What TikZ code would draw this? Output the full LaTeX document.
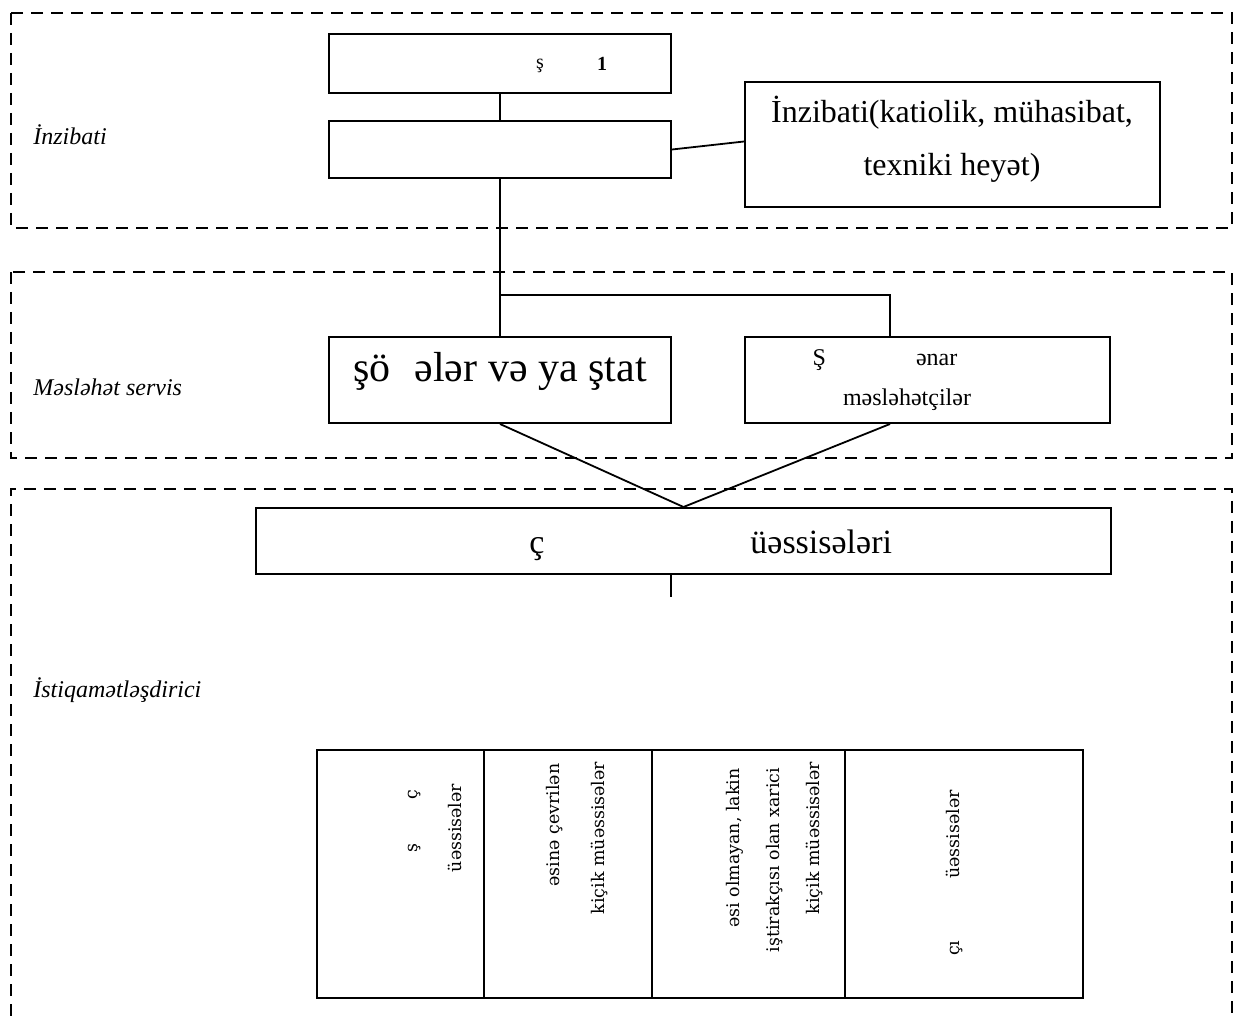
\documentclass[tikz,border=0pt]{standalone}
\usepackage{fontspec}
\setmainfont{Liberation Serif}
\newfontfamily\rotfont{DejaVu Serif}
\usetikzlibrary{calc}
\tikzset{
  box/.style={draw, line width=1pt, inner sep=0pt},
  zone/.style={draw, line width=1.4pt, dash pattern=on 6pt off 4pt},
  conn/.style={draw, line width=0.9pt},
  zlabel/.style={anchor=west, inner sep=0pt, font=\fontsize{12}{14}\selectfont\itshape},
  rtext/.style={rotate=90, inner sep=0pt, font=\rotfont\fontsize{8.7}{10}\selectfont},
}
\begin{document}
\begin{tikzpicture}[x=0.5pt,y=-0.5pt]
\useasboundingbox (0,0) rectangle (1243,1016);
% zones
\draw[zone] (11,13) rectangle (1232,228);
\draw[zone] (11,272) rectangle (1232,458);
\draw[zone] (11,1016) -- (11,489) -- (1232,489) -- (1232,1016);
\node[zlabel] (lz1) at (33,135) {İnzibati};
\node[zlabel] (lz2) at (33,387) {Məsləhət servis};
\node[zlabel] (lz3) at (33,690) {İstiqamətləşdirici};
% boxes
\node[box, minimum width=171pt, minimum height=29.5pt] (A) at (500,63.5) {};
\node[box, minimum width=171pt, minimum height=28.5pt] (B) at (500,149.5) {};
\node[box, minimum width=207.5pt, minimum height=62.5pt] (C) at (952.5,144.5) {};
\node[box, minimum width=171pt, minimum height=43pt] (D) at (500,380) {};
\node[box, minimum width=182.5pt, minimum height=43pt] (E) at (927.5,380) {};
\node[box, minimum width=427.5pt, minimum height=33pt] (F) at (683.5,541) {};
% table
\node[box, minimum width=83.5pt, minimum height=124pt] (T1) at (400.5,874) {};
\node[box, minimum width=84pt, minimum height=124pt] (T2) at (568,874) {};
\node[box, minimum width=96.5pt, minimum height=124pt] (T3) at (748.5,874) {};
\node[box, minimum width=119pt, minimum height=124pt] (T4) at (964,874) {};
% texts
\node[font=\fontsize{10}{12}\selectfont, inner sep=0pt] (ta1) at (540,66) {ş};
\node[font=\fontsize{10}{12}\selectfont\bfseries, inner sep=0pt] (ta2) at (602,64) {1};
\node[font=\fontsize{16}{26.5}\selectfont, align=center, inner sep=0pt] (tc) at (952,139) {İnzibati(katiolik, mühasibat,\\texniki heyət)};
\node[font=\fontsize{21}{25}\selectfont, inner sep=0pt] (td) at (500,371) {şö\hspace{12pt}ələr və ya ştat};
\node[font=\fontsize{12}{14}\selectfont, inner sep=0pt] (te1) at (885,360) {Ş\hspace{45pt}ənar};
\node[font=\fontsize{12}{14}\selectfont, inner sep=0pt] (te2) at (907,400) {məsləhətçilər};
\node[font=\fontsize{17}{20}\selectfont, inner sep=0pt, anchor=base] (tf1) at (537,553) {ç};
\node[font=\fontsize{17}{20}\selectfont, inner sep=0pt, anchor=base west] (tf2) at (750,553) {üəssisələri};
\node[rtext] (r11) at (415,821) {ş\hspace{22pt}ç};
\node[rtext] (r12) at (455,828) {üəssisələr};
\node[rtext] (r21) at (555,825) {əsinə çevrilən};
\node[rtext] (r22) at (600,838) {kiçik müəssisələr};
\node[rtext] (r31) at (735,848) {əsi olmayan, lakin};
\node[rtext] (r32) at (775,860) {iştirakçısı olan xarici};
\node[rtext] (r33) at (815,838) {kiçik müəssisələr};
\node[rtext] (r41) at (955,873) {çı\hspace{31pt}üəssisələr};
% connectors
\coordinate (J) at (500,295);
\coordinate (Fend) at (671,597);
\draw[conn] (A.south) -- (B.north);
\draw[conn] (B.east) -- ([yshift=1.5pt]C.west);
\draw[conn] (B.south) -- (D.north);
\draw[conn] (J) -| ([xshift=-18.75pt]E.north);
\draw[conn] (D.south) -- (F.north);
\draw[conn] ([xshift=-18.75pt]E.south) -- (F.north);
\draw[conn] ([xshift=-6.25pt]F.south) -- (Fend);
\end{tikzpicture}
\end{document}
